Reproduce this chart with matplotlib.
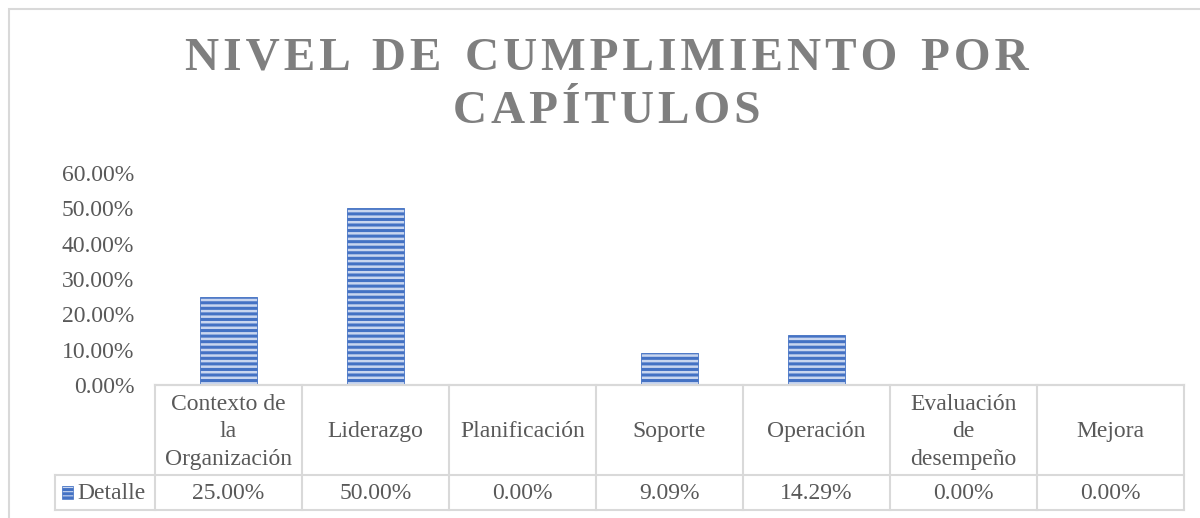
import matplotlib.pyplot as plt
from matplotlib.patches import Rectangle
import matplotlib as mpl

# datos del grafico
capitulos = ["Contexto de\nla\nOrganización", "Liderazgo", "Planificación", "Soporte",
             "Operación", "Evaluación\nde\ndesempeño", "Mejora"]
valores = [0.25, 0.50, 0.0, 0.0909, 0.1429, 0.0, 0.0]
serie = "Detalle"
ticks_y = [0.0, 0.1, 0.2, 0.3, 0.4, 0.5, 0.6]
titulo = ["NIVEL DE CUMPLIMIENTO POR", "CAPÍTULOS"]

gris_txt = "#595959"
gris_lin = "#d9d9d9"
azul = "#4472c4"

mpl.rcParams['hatch.linewidth'] = 2.2
mpl.rcParams['hatch.color'] = azul
plt.rcParams['font.family'] = ['Liberation Serif', 'DejaVu Serif']

W, H = 1200, 518
fig = plt.figure(figsize=(12, 5.18), dpi=100)

# borde del grafico
fig.patches.append(Rectangle((9 / W, -0.1), 1.2, (H - 9) / H + 0.1, transform=fig.transFigure,
                             fill=False, edgecolor=gris_lin, linewidth=1.5))

x0, x1 = 155, 1184
y_top, y_eje, y_mid, y_bot = 173, 385, 475, 510
fs = 17

ax = fig.add_axes([x0 / W, (H - y_eje) / H, (x1 - x0) / W, (y_eje - y_top) / H])
x = range(len(capitulos))
ax.bar(x, valores, width=0.39, color="#c9d6ef", edgecolor=azul, linewidth=0.6, hatch="---")
ax.set_xlim(-0.5, len(capitulos) - 0.5)
ax.set_ylim(0, 0.6)
ax.set_yticks(ticks_y)
ax.set_yticklabels([f"{v*100:.2f}%" for v in ticks_y], fontsize=fs, color=gris_txt)
ax.tick_params(axis='y', length=0, pad=15)
ax.set_xticks([])
for s in ["left", "right", "top"]:
    ax.spines[s].set_visible(False)
ax.spines["bottom"].set_color(gris_lin)
ax.spines["bottom"].set_linewidth(1.5)

# tabla de datos
axt = fig.add_axes([x0 / W, (H - y_bot) / H, (x1 - x0) / W, (y_bot - y_eje) / H])
axt.set_xlim(-0.5, len(capitulos) - 0.5)
axt.set_ylim(0, 1)
axt.axis("off")
frac = (y_bot - y_mid) / (y_bot - y_eje)
leg_left = -0.5 - (x0 - 55) / ((x1 - x0) / len(capitulos))
kw = dict(color=gris_lin, linewidth=1.5, clip_on=False)
axt.plot([-0.5, len(capitulos) - 0.5], [1, 1], **kw)
axt.plot([leg_left, len(capitulos) - 0.5], [frac, frac], **kw)
axt.plot([leg_left, len(capitulos) - 0.5], [0, 0], **kw)
axt.plot([leg_left, leg_left], [0, frac], **kw)
for i in range(len(capitulos) + 1):
    axt.plot([i - 0.5, i - 0.5], [0, 1], **kw)
for i, (c, v) in enumerate(zip(capitulos, valores)):
    axt.text(i, (1 + frac) / 2 - 0.015, c, ha="center", va="center", fontsize=fs,
             color=gris_txt, linespacing=1.4)
    axt.text(i, frac / 2 - 0.01, f"{v*100:.2f}%", ha="center", va="center", fontsize=fs,
             color=gris_txt)
# leyenda dentro de la tabla
axt.add_patch(Rectangle((leg_left + 0.05, frac / 2 - 0.05), 0.07, 0.1, facecolor="#c9d6ef",
                        edgecolor=azul, linewidth=0.5, hatch="----", clip_on=False))
axt.text(leg_left + 0.155, frac / 2 - 0.01, serie, ha="left", va="center", fontsize=fs,
         color=gris_txt)

# titulo con espaciado entre letras
def espaciar(t):
    return "  ".join("\u200a".join(p) for p in t.split(" "))

fig.text(0.506, (H - 58) / H, espaciar(titulo[0]), ha="center", va="center", fontsize=34,
         fontweight="bold", color="#7f7f7f")
fig.text(0.506, (H - 112) / H, espaciar(titulo[1]), ha="center", va="center", fontsize=34,
         fontweight="bold", color="#7f7f7f")

fig.savefig("out.png", dpi=100)
